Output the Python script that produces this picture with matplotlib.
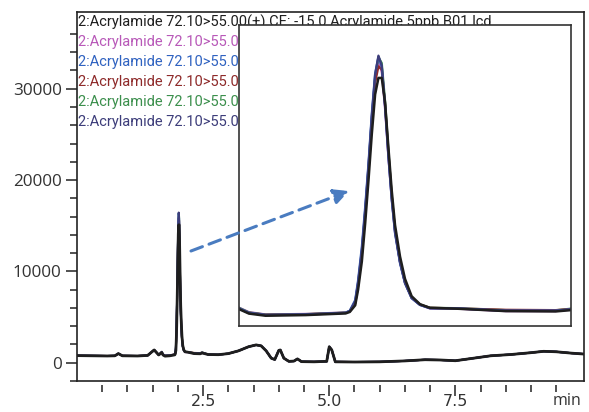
import matplotlib
matplotlib.use('Agg')
import matplotlib.pyplot as plt
import numpy as np

# chromatogram baseline shared by all six injections (min, counts)
pre_t = [0.00, 0.30, 0.60, 0.75, 0.82, 0.90, 1.20, 1.40, 1.53, 1.62]
pre_y = [780, 760, 740, 760, 1000, 760, 740, 800, 1400, 850]
post_t = [2.60, 2.80, 3.00, 3.20, 3.40, 3.55, 3.65, 3.75, 3.85, 3.92, 4.00, 4.03,
          4.10, 4.20, 4.30, 4.37, 4.45, 4.70, 4.95, 5.00, 5.05, 5.12, 5.50, 6.00,
          6.50, 6.90, 7.20, 7.50, 7.80, 8.20, 8.60, 9.00, 9.25, 9.50, 9.80, 10.05]
post_y = [900, 880, 1000, 1300, 1750, 1950, 1850, 1300, 500, 350, 1350, 1400,
          500, 150, 180, 420, 120, 100, 150, 1750, 1400, 100, 80, 100,
          200, 330, 300, 220, 450, 760, 900, 1100, 1250, 1200, 1050, 950]

# acrylamide peak, per injection
peak_t = [1.680, 1.704, 1.744, 1.841, 1.937, 1.947, 1.960, 1.967, 1.976, 1.984,
          1.992, 2.000, 2.008, 2.016, 2.024, 2.032, 2.040, 2.048, 2.056, 2.068,
          2.080, 2.096, 2.116, 2.140, 2.202, 2.323, 2.443, 2.480]
peaks = {
    'pink':  [1210, 940, 800, 830, 920, 1010, 1550, 2700, 4600, 7000, 9700, 12700, 15100, 16000,
              15500, 13200, 10300, 7800, 5800, 3950, 2720, 1800, 1380, 1160, 1150, 1000, 1000, 1090],
    'green': [1200, 920, 790, 820, 910, 1000, 1500, 2600, 4500, 6900, 9600, 12600, 15100, 16350,
              16000, 13700, 10700, 8000, 5900, 4000, 2750, 1820, 1400, 1200, 1180, 1060, 1050, 1150],
    'red':   [1160, 900, 780, 810, 900, 990, 1450, 2500, 4400, 6800, 9400, 12300, 14800, 15800,
              15600, 13500, 10600, 8000, 5900, 4000, 2750, 1820, 1400, 1200, 1170, 1080, 1060, 1130],
    'blue':  [1170, 900, 770, 800, 900, 1030, 1670, 2880, 4900, 7300, 9950, 12950, 15380, 16380,
              15780, 13350, 10340, 7720, 5700, 3890, 2680, 1780, 1370, 1170, 1170, 1030, 1030, 1110],
    'navy':  [1150, 880, 760, 790, 890, 1000, 1600, 2750, 4700, 7100, 9800, 12800, 15300, 16450,
              15850, 13400, 10400, 7800, 5750, 3950, 2700, 1790, 1380, 1180, 1160, 1020, 1020, 1100],
    'black': [1120, 850, 720, 760, 860, 950, 1350, 2300, 4000, 6300, 8900, 11700, 14100, 15100,
              15100, 13600, 10900, 8300, 6200, 4300, 2950, 1900, 1420, 1200, 1150, 1000, 980, 1060],
}
colors = {'black': '#1e1e1e', 'pink': '#b858b8', 'blue': '#2f62c0',
          'red': '#8e2a2a', 'green': '#3b8f4c', 'navy': '#3d3d7a'}
draw_order = ['pink', 'green', 'red', 'blue', 'navy', 'black']

legend_order = ['black', 'pink', 'blue', 'red', 'green', 'navy']
legend_files = ['Acrylamide 5ppb B01.lcd', 'Acrylamide 5ppb B02.lcd',
                'Acrylamide 5ppb B03.lcd', 'Acrylamide 5ppb B04.lcd',
                'Acrylamide 5ppb B05.lcd', 'Acrylamide 5ppb B06.lcd']

fig = plt.figure(figsize=(5.89, 4.12), dpi=100)
ax = fig.add_axes([77/589, 1-381/412, 507/589, 369/412])

for key in draw_order:
    t = pre_t + peak_t + post_t
    y = pre_y + peaks[key] + post_y
    ax.plot(t, y, color=colors[key], lw=2.0 if key == 'black' else 1.4)

ax.set_xlim(0, 10.05)
ax.set_ylim(-2000, 38400)
ax.set_xticks([2.5, 5.0, 7.5])
ax.set_xticklabels(['2.5', '5.0', '7.5'])
ax.set_xticks(np.arange(0.5, 10.0, 0.5), minor=True)
ax.set_yticks([0, 10000, 20000, 30000])
ax.set_yticks(np.arange(-2000, 38000, 2000), minor=True)
ax.tick_params(axis='both', which='major', length=8, width=1.1, color='#222',
               labelsize=12.3, labelcolor='#333')
ax.tick_params(axis='both', which='minor', length=5, width=1.1, color='#222')
ax.tick_params(axis='x', pad=-1.5, labelsize=11.5)
ax.tick_params(axis='y', pad=3)
for lab in ax.get_xticklabels() + ax.get_yticklabels():
    lab.set_family('Open Sans')
for s in ax.spines.values():
    s.set_color('#222')
    s.set_linewidth(1.2)
# ticks start a little below the frame
ax.spines['bottom'].set_position(('outward', 3))
ax.spines['bottom'].set_visible(False)
ax.plot([0, 1], [0, 0], transform=ax.transAxes, color='#222', lw=1.2, clip_on=False)

for i, (key, fname) in enumerate(zip(legend_order, legend_files)):
    ax.text(0.002, (381 - (22 + 20*i))/369, '2:Acrylamide 72.10>55.00(+) CE: -15.0 ' + fname,
            transform=ax.transAxes, ha='left', va='center', fontsize=10.5,
            family='Roboto', color=colors[key])

fig.text(567/589, 1-401/412, 'min', ha='center', va='center', fontsize=11.5,
         family='Open Sans', color='#333')

# zoomed view of the acrylamide peak
ins = fig.add_axes([239/589, 1-326/412, 332/589, 301/412])
for key in draw_order:
    ins.plot(peak_t, peaks[key], color=colors[key], lw=1.8 if key == 'black' else 1.6)
ins.set_xlim(1.68, 2.48)
ins.set_ylim(100, 18300)
ins.set_xticks([])
ins.set_yticks([])
for s in ins.spines.values():
    s.set_color('#333')
    s.set_linewidth(1.2)

fig.add_artist(plt.Annotation('', xy=(349/589, 1-191/412), xytext=(191/589, 1-251/412),
                              xycoords='figure fraction', textcoords='figure fraction',
                              arrowprops=dict(arrowstyle='-|>,head_length=0.9,head_width=0.45',
                                              color='#4a7cc0', lw=2.2, linestyle=(0, (4, 2.3)),
                                              shrinkA=0, shrinkB=0)))

fig.savefig('out.png', dpi=100)
